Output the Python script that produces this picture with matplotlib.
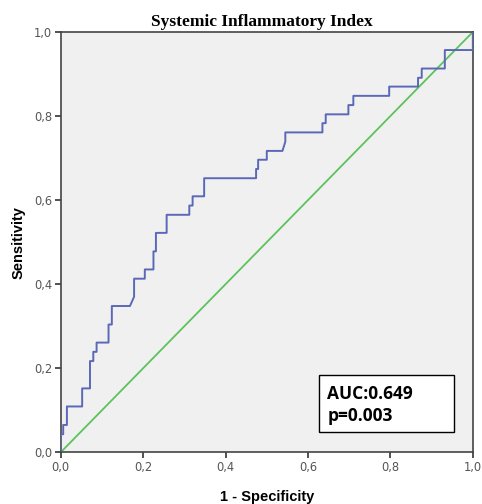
import matplotlib
matplotlib.use('Agg')
import matplotlib.pyplot as plt
from matplotlib.patches import Rectangle

# ROC curve points (1 - specificity, sensitivity)
fpr = [0.000, 0.000, 0.006, 0.006, 0.015, 0.015, 0.052, 0.052, 0.071, 0.071,
       0.079, 0.079, 0.087, 0.087, 0.116, 0.116, 0.124, 0.124, 0.168, 0.178,
       0.178, 0.204, 0.204, 0.225, 0.225, 0.231, 0.231, 0.257, 0.257, 0.312,
       0.312, 0.320, 0.320, 0.348, 0.348, 0.474, 0.474, 0.479, 0.479, 0.500,
       0.500, 0.538, 0.545, 0.545, 0.635, 0.635, 0.643, 0.643, 0.698, 0.698,
       0.710, 0.710, 0.797, 0.797, 0.867, 0.867, 0.876, 0.876, 0.932, 0.932,
       1.000, 1.000]
tpr = [0.000, 0.043, 0.043, 0.065, 0.065, 0.109, 0.109, 0.152, 0.152, 0.217,
       0.217, 0.239, 0.239, 0.261, 0.261, 0.304, 0.304, 0.348, 0.348, 0.370,
       0.413, 0.413, 0.435, 0.435, 0.478, 0.478, 0.522, 0.522, 0.565, 0.565,
       0.587, 0.587, 0.609, 0.609, 0.652, 0.652, 0.674, 0.674, 0.696, 0.696,
       0.717, 0.717, 0.739, 0.761, 0.761, 0.783, 0.783, 0.804, 0.804, 0.826,
       0.826, 0.848, 0.848, 0.870, 0.870, 0.891, 0.891, 0.913, 0.913, 0.957,
       0.957, 1.000]
ref_line = [0.0, 1.0]
ticks = [0.0, 0.2, 0.4, 0.6, 0.8, 1.0]
tick_labels = ['0,0', '0,2', '0,4', '0,6', '0,8', '1,0']
auc_text = 'AUC:0.649\np=0.003'

fig = plt.figure(figsize=(4.82, 5.04), dpi=100)
ax = fig.add_axes([0.126, 0.1026, 0.855, 0.834])
ax.set_facecolor('#f0f0f0')

ax.plot(ref_line, ref_line, color='#5cc35c', lw=1.3, zorder=2)
ax.plot(fpr, tpr, color='#5b68b8', lw=1.4, zorder=3)

ax.set_xlim(0, 1)
ax.set_ylim(0, 1)
ax.set_xticks(ticks)
ax.set_xticklabels(tick_labels)
ax.set_yticks(ticks)
ax.set_yticklabels(tick_labels)
ax.tick_params(direction='out', length=4, width=1.2, color='#333333',
               labelsize=8.3, labelcolor='#555555', pad=2)
for s in ax.spines.values():
    s.set_color('#444444')
    s.set_linewidth(1.2)

ax.set_title('Systemic Inflammatory Index', family='Liberation Serif',
             fontweight='bold', fontsize=12.5, pad=4, x=0.488)
ax.set_xlabel('1 - Specificity', family='Liberation Sans', fontweight='bold',
              fontsize=10.5, labelpad=12)
ax.set_ylabel('Sensitivity', family='Liberation Sans', fontweight='bold',
              fontsize=10.5, labelpad=6)

box = Rectangle((0.627, 0.048), 0.327, 0.135, transform=ax.transAxes,
                facecolor='white', edgecolor='black', lw=1.0, zorder=4)
ax.add_patch(box)
ax.text(0.647, 0.113, auc_text, transform=ax.transAxes, ha='left', va='center',
        family='Open Sans', fontweight='bold', fontsize=12.5, linespacing=1.25,
        zorder=5)

fig.savefig('out.png', dpi=100)
